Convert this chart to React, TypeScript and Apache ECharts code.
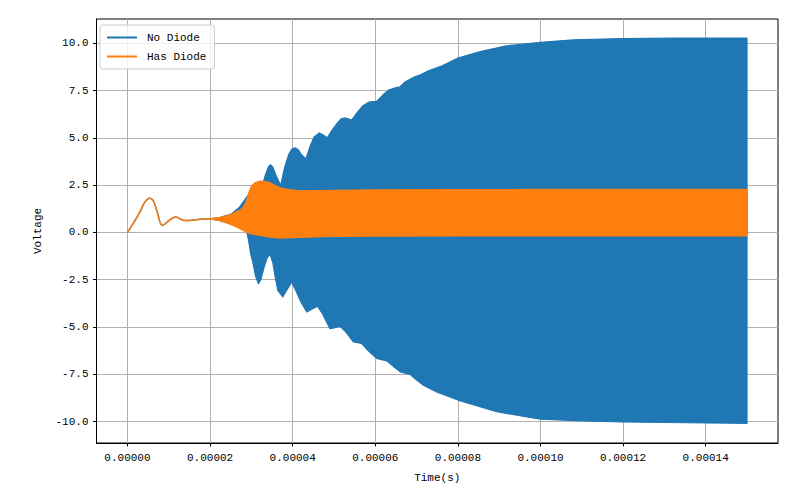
import React, { useEffect, useRef } from "react";
import * as echarts from "echarts";

// time values in units of 1e-5 s
const earlyT = [0, 0.15, 0.3, 0.42, 0.54, 0.62, 0.71, 0.85, 1.03, 1.17, 1.39, 1.76, 2.0];
const earlyV = [0, 0.52, 1.07, 1.6, 1.81, 1.69, 1.16, 0.37, 0.67, 0.81, 0.63, 0.69, 0.72];

const noDiodeUpperT = [2.0, 2.24, 2.5, 2.7, 2.9, 3.1, 3.28, 3.35, 3.42, 3.47, 3.52, 3.6, 3.71, 3.8, 3.9, 3.98, 4.06, 4.14, 4.22, 4.32, 4.42, 4.52, 4.64, 4.74, 4.84, 4.95, 5.07, 5.17, 5.25, 5.35, 5.43, 5.55, 5.7, 5.83, 5.93, 6.03, 6.2, 6.32, 6.4, 6.5, 6.6, 6.72, 6.84, 6.95, 7.08, 7.3, 7.57, 8.0, 8.54, 9.18, 10.0, 10.8, 12.0, 13.2, 15.0];
const noDiodeUpperV = [0.72, 0.8, 0.95, 1.3, 1.9, 2.5, 2.6, 3.1, 3.5, 3.57, 3.45, 3.0, 2.48, 3.4, 4.1, 4.4, 4.47, 4.35, 4.09, 3.89, 4.55, 5.05, 5.26, 5.15, 5.0, 5.4, 5.75, 6.0, 6.05, 6.0, 5.94, 6.3, 6.7, 6.87, 6.92, 6.93, 7.3, 7.52, 7.58, 7.65, 7.7, 7.95, 8.1, 8.22, 8.32, 8.55, 8.76, 9.21, 9.56, 9.86, 10.05, 10.18, 10.25, 10.27, 10.27];
const noDiodeLowerT = [2.0, 2.24, 2.5, 2.7, 2.88, 2.93, 2.98, 3.04, 3.1, 3.17, 3.23, 3.3, 3.38, 3.45, 3.52, 3.58, 3.64, 3.76, 3.87, 3.98, 4.08, 4.18, 4.34, 4.47, 4.6, 4.72, 4.82, 4.9, 5.0, 5.15, 5.3, 5.47, 5.67, 5.85, 6.03, 6.28, 6.45, 6.6, 6.84, 7.0, 7.16, 7.5, 8.0, 8.94, 10.0, 11.0, 12.0, 13.5, 15.0];
const noDiodeLowerV = [0.72, 0.62, 0.45, 0.3, 0.1, -0.4, -1.1, -1.64, -2.3, -2.71, -2.5, -1.9, -1.35, -1.16, -1.6, -2.4, -3.06, -3.41, -3.0, -2.62, -3.1, -3.59, -4.2, -4.05, -3.9, -4.3, -4.73, -5.08, -5.05, -4.96, -5.3, -5.79, -5.87, -6.3, -6.66, -6.79, -7.1, -7.37, -7.5, -7.8, -8.07, -8.45, -8.86, -9.48, -9.87, -9.96, -10.02, -10.06, -10.09];

const hasDiodeUpperT = [2.0, 2.24, 2.4, 2.56, 2.7, 2.8, 2.88, 2.94, 3.0, 3.1, 3.21, 3.35, 3.45, 3.6, 3.75, 3.9, 4.2, 5.0, 6.0, 8.0, 10.0, 15.0];
const hasDiodeUpperV = [0.72, 0.8, 0.88, 1.0, 1.15, 1.32, 1.65, 2.1, 2.45, 2.64, 2.71, 2.69, 2.62, 2.45, 2.33, 2.26, 2.2, 2.22, 2.25, 2.26, 2.27, 2.27];
const hasDiodeLowerT = [2.0, 2.24, 2.4, 2.56, 2.7, 2.8, 2.97, 3.21, 3.45, 3.69, 4.0, 4.5, 5.0, 6.0, 8.0, 15.0];
const hasDiodeLowerV = [0.72, 0.62, 0.5, 0.37, 0.22, 0.1, -0.07, -0.16, -0.25, -0.3, -0.28, -0.24, -0.21, -0.2, -0.19, -0.19];

const xTicks = [0, 0.00002, 0.00004, 0.00006, 0.00008, 0.0001, 0.00012, 0.00014];
const yTicks = [-10, -7.5, -5, -2.5, 0, 2.5, 5, 7.5, 10];

const seriesNames = ["No Diode", "Has Diode"];
const colors = ["#1f77b4", "#ff7f0e"];

const FONT = "Liberation Mono";

function bandPoints(uT: number[], uV: number[], lT: number[], lV: number[]) {
  const upper: number[][] = uT.map((t, i) => [t * 1e-5, uV[i]]);
  const lower: number[][] = lT.map((t, i) => [t * 1e-5, lV[i]]);
  return upper.concat(lower.reverse());
}

function makeRender(points: number[][], color: string) {
  return (params: any, api: any) => {
    if (params.dataIndex !== 0) return null;
    const pts = points.map((p) => api.coord(p));
    return {
      type: "polygon",
      shape: { points: pts },
      style: { fill: color, stroke: color, lineWidth: 1.2, lineJoin: "round" },
    };
  };
}

export default function App() {
  const ref = useRef<HTMLDivElement>(null);
  useEffect(() => {
    if (!ref.current) return;
    const chart = echarts.init(ref.current, null, { renderer: "svg" });
    const bands = [
      bandPoints(noDiodeUpperT, noDiodeUpperV, noDiodeLowerT, noDiodeLowerV),
      bandPoints(hasDiodeUpperT, hasDiodeUpperV, hasDiodeLowerT, hasDiodeLowerV),
    ];
    const early = earlyT.map((t, i) => [t * 1e-5, earlyV[i]]);
    const bandSeries = seriesNames.map((name, i) => ({
      type: "custom",
      name,
      coordinateSystem: "cartesian2d",
      itemStyle: { color: colors[i] },
      data: [[0, 0]],
      encode: { x: 0, y: 1 },
      renderItem: makeRender(bands[i], colors[i]),
      z: 2 + 2 * i,
    }));
    const earlySeries = seriesNames.map((name, i) => ({
      type: "line",
      name,
      data: early,
      smooth: 0.4,
      showSymbol: false,
      symbol: "none",
      lineStyle: { color: colors[i], width: 1.5 },
      itemStyle: { color: colors[i] },
      z: 3 + 2 * i,
    }));
    chart.setOption({
      animation: false,
      backgroundColor: "#fff",
      textStyle: { fontFamily: FONT },
      grid: {
        left: 96.5, right: 22, top: 19, bottom: 57,
        show: true, borderColor: "#000", borderWidth: 1, containLabel: false,
      },
      legend: {
        orient: "vertical",
        left: 100, top: 25,
        data: seriesNames,
        icon: "rect",
        itemWidth: 30, itemHeight: 2,
        itemGap: 6,
        padding: [6, 8, 6, 7],
        borderColor: "#cccccc", borderWidth: 1, borderRadius: 3,
        backgroundColor: "rgba(255,255,255,0.8)",
        textStyle: { fontFamily: FONT, fontSize: 11, color: "#000", lineHeight: 13, padding: [0, 0, 0, 5] },
      },
      xAxis: {
        type: "value",
        min: -7.5e-6, max: 1.575e-4,
        name: "Time(s)", nameLocation: "middle", nameGap: 29,
        nameTextStyle: { fontFamily: FONT, fontSize: 11, color: "#000" },
        axisLine: { show: true, onZero: false, lineStyle: { color: "#000", width: 1 } },
        axisTick: { show: true, length: 3.5, lineStyle: { color: "#000" }, customValues: xTicks },
        axisLabel: { customValues: xTicks, color: "#000", fontSize: 11, fontFamily: FONT, margin: 9, formatter: (v: number) => v.toFixed(5) },
        splitLine: { show: true, lineStyle: { color: "#b0b0b0", width: 1 } },
      },
      yAxis: {
        type: "value",
        min: -11.13, max: 11.28,
        name: "Voltage", nameLocation: "middle", nameGap: 53,
        nameTextStyle: { fontFamily: FONT, fontSize: 11, color: "#000" },
        axisLine: { show: true, onZero: false, lineStyle: { color: "#000", width: 1 } },
        axisTick: { show: true, length: 3.5, lineStyle: { color: "#000" }, customValues: yTicks },
        axisLabel: { customValues: yTicks, color: "#000", fontSize: 11, fontFamily: FONT, margin: 8, formatter: (v: number) => v.toFixed(1) },
        splitLine: { show: true, lineStyle: { color: "#b0b0b0", width: 1 } },
      },
      series: [bandSeries[0], earlySeries[0], bandSeries[1], earlySeries[1]],
    });
    return () => chart.dispose();
  }, []);
  return <div ref={ref} style={{ position: "fixed", left: 0, top: 0, width: 800, height: 500 }} />;
}
